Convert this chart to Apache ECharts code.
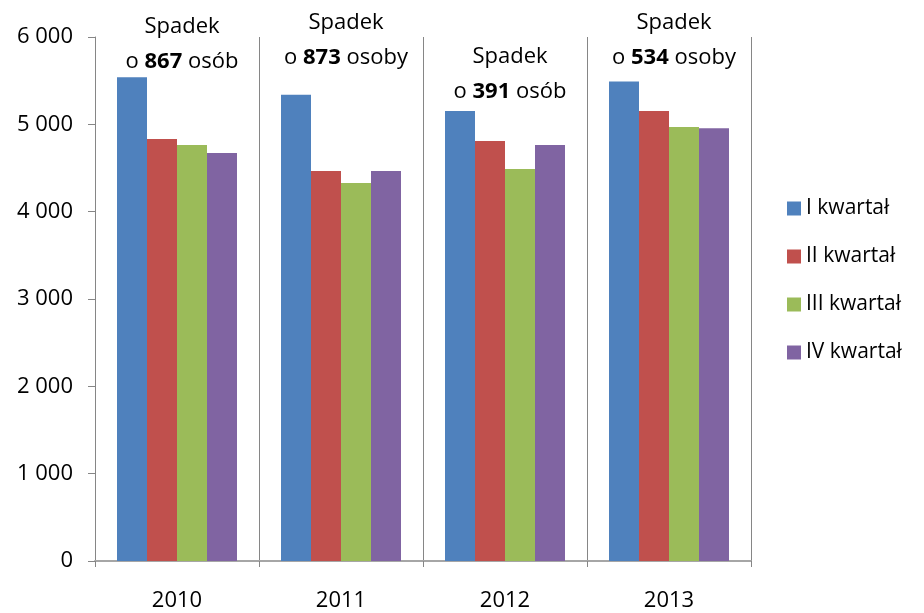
<!DOCTYPE html>
<html>
<head>
<meta charset="utf-8">
<script src="https://cdn.jsdelivr.net/npm/echarts@6/dist/echarts.min.js"></script>
<style>
  html, body { margin: 0; padding: 0; background: #fff; }
  #chart { width: 924px; height: 613px; }
</style>
</head>
<body>
<div id="chart"></div>
<script>
const years = ["2010", "2011", "2012", "2013"];
const seriesNames = ["I kwartał", "II kwartał", "III kwartał", "IV kwartał"];
const q1 = [5540, 5339, 5154, 5490];
const q2 = [4832, 4466, 4809, 5153];
const q3 = [4763, 4328, 4489, 4970];
const q4 = [4673, 4466, 4763, 4956];
const colors = ["#4F81BD", "#C0504D", "#9BBB59", "#8064A2"];

// annotation above each year: "Spadek o N osób"
const dropCounts = [867, 873, 391, 534];
const dropWords = ["osób", "osoby", "osób", "osoby"];
const notePos = [5914, 5966, 5577, 5966]; // vertical centre of each note, in axis units

const font = "'Open Sans', 'DejaVu Sans', sans-serif";
const chart = echarts.init(document.getElementById("chart"));

const barSeries = [q1, q2, q3, q4].map((vals, i) => ({
  name: seriesNames[i],
  type: "bar",
  data: vals,
  barWidth: 30,
  barGap: "0%",
  itemStyle: { color: colors[i] },
  animation: false
}));

chart.setOption({
  animation: false,
  textStyle: { fontFamily: font },
  grid: { left: 95, right: 173, top: 37, bottom: 52 },
  legend: {
    data: seriesNames,
    orient: "vertical",
    left: 782,
    top: 193,
    itemWidth: 14,
    itemHeight: 14,
    itemGap: 27,
    icon: "rect",
    textStyle: { fontSize: 21, color: "#000", fontFamily: font, padding: [0, 0, 0, 0] }
  },
  xAxis: {
    type: "category",
    data: years,
    axisLine: { lineStyle: { color: "#A6A6A6", width: 2 } },
    axisTick: { show: true, length: 6, lineStyle: { color: "#868686" } },
    axisLabel: { fontSize: 22, color: "#000", margin: 29, fontFamily: font },
    splitLine: { show: true, lineStyle: { color: "#868686", width: 1 } }
  },
  yAxis: {
    type: "value",
    min: 0,
    max: 6000,
    interval: 1000,
    axisLine: { show: true, lineStyle: { color: "#868686" } },
    axisTick: { show: true, length: 7, lineStyle: { color: "#868686" } },
    axisLabel: {
      fontSize: 22,
      color: "#000",
      margin: 22,
      fontFamily: font,
      formatter: v => v >= 1000 ? Math.floor(v / 1000) + " " + String(v % 1000).padStart(3, "0") : String(v)
    },
    splitLine: { show: false }
  },
  series: barSeries.concat([{
    type: "scatter",
    symbolSize: 0,
    clip: false,
    silent: true,
    data: notePos,
    z: 10,
    itemStyle: { opacity: 1 },
    label: {
      show: true,
      position: "inside",
      offset: [5, 0],
      color: "#000",
      formatter: p => "{n|Spadek}\n{n|o }{b|" + dropCounts[p.dataIndex] + "}{n| " + dropWords[p.dataIndex] + "}",
      rich: {
        n: { fontSize: 22, color: "#000", fontFamily: font, lineHeight: 35 },
        b: { fontSize: 22, color: "#000", fontFamily: font, fontWeight: "bold", lineHeight: 35 }
      }
    }
  }])
});
</script>
</body>
</html>
